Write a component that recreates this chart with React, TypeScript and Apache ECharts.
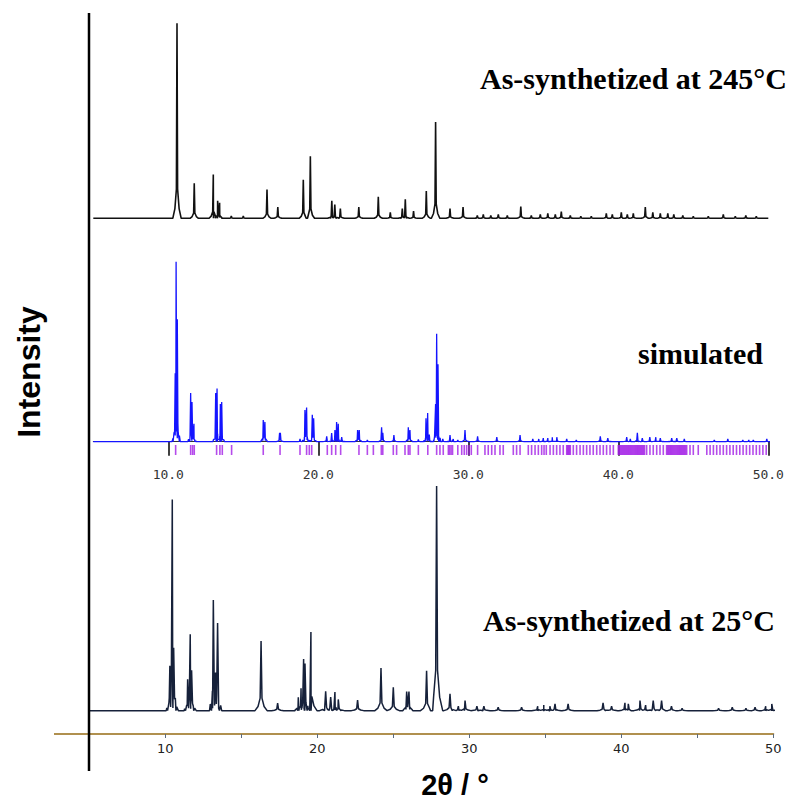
import React, { useEffect, useRef } from "react";
import * as echarts from "echarts";

// ---- Data (2θ in degrees, relative intensity) ----
const PEAKS_245: [number, number][] = [
  [10.58, 100], [11.73, 18], [13.0, 22.5], [13.29, 9], [13.42, 8], [14.2, 1.2], [15.0, 1.2],
  [16.58, 14.7], [17.3, 5.8], [19.0, 19.8], [19.47, 31.8], [20.9, 9], [21.1, 7], [21.47, 5],
  [22.7, 5.8], [24.0, 11], [24.8, 3], [25.6, 5], [25.8, 9.7], [26.35, 3.7], [27.2, 14],
  [27.82, 49.4], [28.78, 5], [29.65, 5.8], [30.6, 1.5], [31.0, 2], [31.5, 1.5], [32.0, 2],
  [32.6, 1.5], [33.5, 6], [34.2, 1.5], [34.8, 2], [35.3, 2.5], [35.8, 2], [36.2, 3.5],
  [36.8, 1.5], [37.5, 1], [38.2, 1], [39.2, 2.5], [39.6, 2], [40.2, 3], [40.6, 2], [41.0, 2.5],
  [41.8, 5.8], [42.3, 3], [42.8, 2.5], [43.3, 2.5], [43.7, 2], [44.3, 1.5], [45.0, 1],
  [46.0, 1], [47.0, 2], [47.8, 1], [48.5, 1.5], [49.2, 1],
];

const PEAKS_SIM: [number, number][] = [
  [10.46, 38], [10.52, 100], [10.6, 68], [11.49, 27], [11.58, 22], [11.71, 10], [13.16, 27],
  [13.25, 29.6], [13.47, 21], [13.56, 22], [16.33, 12], [16.44, 11], [17.42, 5], [17.47, 5],
  [18.78, 1.5], [19.11, 17.6], [19.22, 19], [19.6, 15], [19.69, 13], [20.56, 3], [20.89, 4.8],
  [21.11, 6.5], [21.22, 11], [21.33, 10], [21.56, 2.6], [22.62, 6.5], [22.73, 6.5], [23.27, 1],
  [24.22, 8], [24.3, 5], [25.04, 3.7], [26.0, 8], [26.11, 6.5], [26.67, 1.3], [27.18, 13],
  [27.29, 16], [27.4, 4], [27.82, 21], [27.89, 60], [27.98, 43], [28.3, 1.5], [28.78, 3.7],
  [29.0, 1.5], [29.3, 1], [29.78, 6.5], [30.62, 3], [31.9, 2.6], [33.45, 3.7], [34.3, 1.5],
  [34.7, 1.5], [35.0, 2], [35.3, 2], [35.6, 2.5], [35.9, 2.5], [36.56, 1.5], [37.2, 1],
  [38.8, 3], [39.3, 2], [40.56, 2.5], [40.8, 1.5], [41.27, 5], [41.6, 2], [42.1, 2.5],
  [42.5, 2.5], [42.8, 2], [43.56, 2], [43.9, 2], [44.4, 1.5], [46.4, 1], [47.3, 1.5],
  [48.3, 1], [48.7, 1], [49.0, 1], [49.9, 1.5],
];

const PEAKS_25: [number, number][] = [
  [10.3, 20], [10.46, 94], [10.55, 28], [11.47, 14], [11.64, 34], [11.73, 18], [13.16, 49.3],
  [13.31, 17], [13.44, 39], [16.3, 31], [17.39, 3.3], [18.75, 6], [18.93, 10], [19.1, 23],
  [19.19, 21], [19.58, 35], [20.55, 8.6], [20.88, 6], [21.16, 8.3], [21.38, 5], [22.65, 4.7],
  [24.19, 19], [25.0, 10.4], [25.88, 8.5], [26.03, 8.5], [27.19, 17.7], [27.85, 100],
  [28.73, 7.5], [29.28, 2], [29.72, 4.5], [30.5, 2], [30.96, 2], [31.9, 1.5], [33.44, 1.5],
  [34.5, 2], [34.9, 2.5], [35.3, 2], [35.64, 3], [36.5, 3], [38.8, 3.5], [39.36, 2],
  [40.24, 3.5], [40.46, 3], [41.23, 4.5], [41.6, 2.5], [42.1, 4.5], [42.65, 4.5], [43.3, 2],
  [44.0, 1], [46.4, 1], [47.3, 1.5], [48.2, 1], [48.8, 1.5], [49.5, 2], [49.9, 3],
];

const BRAGG_TICKS: number[] = [
  10.49, 11.49, 11.62, 11.73, 13.22, 13.44, 13.6, 14.22, 16.33, 17.45, 18.78, 19.22, 19.4,
  19.56, 20.6, 20.89, 21.16, 21.49, 22.71, 23.27, 23.67, 24.2, 24.3, 25.0, 25.22, 25.78, 26.0,
  26.11, 26.67, 27.3, 27.89, 28.11, 28.33, 28.67, 28.75, 28.85, 28.95, 29.3, 29.56, 29.73,
  29.89, 30.05, 30.2, 30.62, 31.11, 31.33, 31.56, 31.78, 32.11, 32.33, 33.0, 33.22, 33.45,
  34.0, 34.22, 34.45, 34.67, 34.89, 35.05, 35.2, 35.45, 35.67, 35.89, 36.11, 36.33, 36.56,
  36.62, 36.68, 36.74, 36.8, 37.0, 37.22, 37.45, 37.67, 37.89, 38.11, 38.33, 38.56, 38.78,
  39.0, 39.22, 39.45, 39.67, 40.0, 40.07, 40.14, 40.21, 40.28, 40.35, 40.42, 40.49, 40.56,
  40.63, 40.7, 40.77, 40.84, 40.91, 40.98, 41.05, 41.12, 41.19, 41.26, 41.33, 41.4, 41.47,
  41.54, 41.61, 41.68, 41.75, 41.89, 42.11, 42.33, 42.56, 42.78, 43.0, 43.22, 43.29, 43.36,
  43.43, 43.5, 43.57, 43.64, 43.71, 43.78, 43.85, 43.92, 43.99, 44.06, 44.13, 44.2, 44.27,
  44.34, 44.41, 44.48, 44.56, 44.78, 45.0, 45.33, 45.9, 46.12, 46.34, 46.56, 46.78, 47.0,
  47.22, 47.44, 47.66, 47.88, 48.1, 48.32, 48.54, 48.76, 48.98, 49.2, 49.42, 49.64, 49.86,
];

const MAIN_TICK_LABELS = [10, 20, 30, 40, 50];
const SIM_TICK_LABELS = [10, 20, 30, 40, 50];
const RANGE: [number, number] = [5, 50];

// peak drawing shape (style): offsets in degrees and fraction of height
function profile(peaks: [number, number][], offs: number[], facs: number[]) {
  const pts: [number, number][] = [[RANGE[0], 0]];
  peaks.forEach(([p, h]) => {
    offs.forEach((o, i) => pts.push([+(p + o).toFixed(3), h * facs[i]]));
  });
  pts.push([RANGE[1], 0]);
  pts.sort((a, b) => a[0] - b[0]);
  return pts;
}

const NARROW_OFF = [-0.28, -0.14, -0.04, 0, 0.04, 0.14, 0.28];
const NARROW_FAC = [0, 0.05, 0.15, 1, 0.15, 0.05, 0];
const WIDE_OFF = [-0.4, -0.2, -0.06, 0, 0.06, 0.2, 0.4];
const WIDE_FAC = [0, 0.06, 0.18, 1, 0.18, 0.06, 0];

export default function App() {
  const ref = useRef<HTMLDivElement>(null);
  useEffect(() => {
    document.body.style.margin = "0";
    const chart = echarts.init(ref.current!, null, { renderer: "svg" });
    const hiddenY = (i: number, min: number, max: number) => ({
      gridIndex: i, type: "value", min, max, show: false,
    });
    chart.setOption({
      animation: false,
      backgroundColor: "#ffffff",
      grid: [
        { left: 93.3, right: 26.7, top: 23.3, bottom: 585.7 },
        { left: 93.3, right: 26.7, top: 261.7, bottom: 347.9 },
        { left: 89.3, right: 21.7, top: 486, bottom: 70 },
      ],
      xAxis: [
        { gridIndex: 0, type: "value", min: RANGE[0], max: RANGE[1], show: false },
        {
          gridIndex: 1, type: "value", min: RANGE[0], max: RANGE[1],
          axisLine: { onZero: true, lineStyle: { color: "#333", width: 1 } },
          axisTick: { customValues: SIM_TICK_LABELS, length: 14, lineStyle: { color: "#000", width: 1.5 } },
          axisLabel: {
            customValues: SIM_TICK_LABELS,
            formatter: (v: number) => v.toFixed(1),
            fontFamily: "DejaVu Sans Mono", fontSize: 13, color: "#333", margin: 12,
          },
          splitLine: { show: false },
        },
        {
          gridIndex: 2, type: "value", min: RANGE[0], max: RANGE[1], interval: 5,
          axisLine: { onZero: false, lineStyle: { color: "#b0904f", width: 2 } },
          axisTick: { length: 4, lineStyle: { color: "#5a6b80", width: 1 } },
          axisLabel: {
            formatter: (v: number) => (MAIN_TICK_LABELS.includes(v) ? String(v) : ""),
            fontFamily: "DejaVu Sans", fontSize: 13, color: "#222", margin: 8,
          },
          splitLine: { show: false },
        },
      ],
      yAxis: [hiddenY(0, 0, 100), hiddenY(1, -8, 100), hiddenY(2, -10.4, 100)],
      series: [
        {
          type: "line", xAxisIndex: 0, yAxisIndex: 0, showSymbol: false,
          data: profile(PEAKS_245, NARROW_OFF, NARROW_FAC),
          lineStyle: { color: "#111", width: 1.6 }, z: 3,
        },
        {
          type: "scatter", xAxisIndex: 1, yAxisIndex: 1, clip: false,
          data: BRAGG_TICKS.map((x) => [x, -4.6]),
          symbol: "rect", symbolSize: [1.6, 10],
          itemStyle: { color: "#a21ee6" }, z: 2,
        },
        {
          type: "line", xAxisIndex: 1, yAxisIndex: 1, showSymbol: false,
          data: profile(PEAKS_SIM, NARROW_OFF, NARROW_FAC),
          lineStyle: { color: "#1414ff", width: 1.3 }, z: 3,
        },
        {
          type: "line", xAxisIndex: 2, yAxisIndex: 2, showSymbol: false,
          data: profile(PEAKS_25, WIDE_OFF, WIDE_FAC),
          lineStyle: { color: "#16213a", width: 1.5 }, z: 3,
        },
      ],
      graphic: [
        { type: "line", z: 5, shape: { x1: 54, y1: 734, x2: 89.3, y2: 734 }, style: { stroke: "#b0904f", lineWidth: 2 } },
        { type: "line", z: 10, shape: { x1: 89, y1: 13, x2: 89, y2: 771 }, style: { stroke: "#000", lineWidth: 2.5 } },
        {
          type: "text", x: 480, y: 78, z: 10,
          style: { text: "As-synthetized at 245°C", fontFamily: "Liberation Serif", fontWeight: "bold", fontSize: 30, fill: "#000", align: "left", verticalAlign: "middle" },
        },
        {
          type: "text", x: 638, y: 353, z: 10,
          style: { text: "simulated", fontFamily: "Liberation Serif", fontWeight: "bold", fontSize: 30, fill: "#000", align: "left", verticalAlign: "middle" },
        },
        {
          type: "text", x: 483, y: 620, z: 10,
          style: { text: "As-synthetized at 25°C", fontFamily: "Liberation Serif", fontWeight: "bold", fontSize: 30, fill: "#000", align: "left", verticalAlign: "middle" },
        },
        {
          type: "text", x: 29, y: 372, rotation: Math.PI / 2, z: 10,
          style: { text: "Intensity", fontFamily: "Liberation Sans", fontWeight: "bold", fontSize: 32, fill: "#000", align: "center", verticalAlign: "middle" },
        },
        {
          type: "text", x: 455, y: 785, z: 10,
          style: { text: "2θ / °", fontFamily: "Liberation Sans", fontWeight: "bold", fontSize: 29, fill: "#000", align: "center", verticalAlign: "middle" },
        },
      ],
    });
    return () => chart.dispose();
  }, []);
  return <div ref={ref} style={{ position: "absolute", left: 0, top: 0, width: 795, height: 804 }} />;
}
